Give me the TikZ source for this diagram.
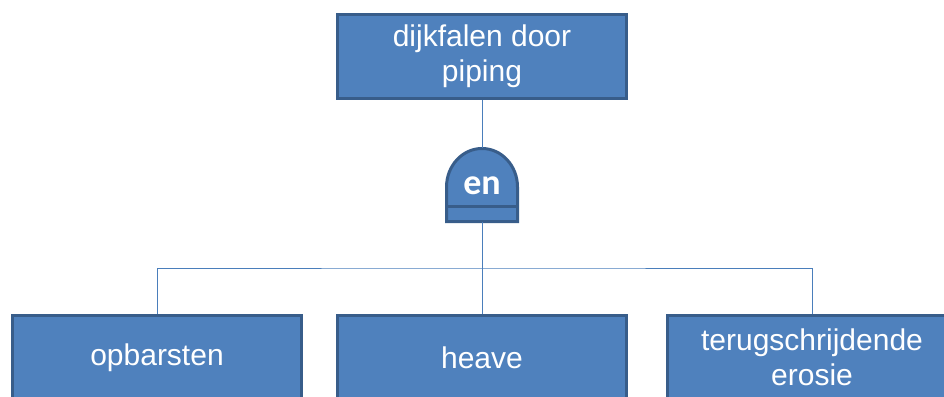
\documentclass[tikz,border=0pt]{standalone}
\usepackage{fontspec}
\setmainfont{Liberation Sans}
\newfontfamily\gatefont{Carlito}
\definecolor{fillblue}{HTML}{4F81BD}
\definecolor{edgeblue}{HTML}{385D8A}
\definecolor{linkblue}{HTML}{4A7EBB}
\begin{document}
\begin{tikzpicture}[x=1pt,y=-1pt,
  box/.style={draw=edgeblue, line width=3pt, fill=fillblue, text=white,
    minimum width=289pt, minimum height=84pt, inner sep=0pt, align=center,
    font=\fontsize{30}{35}\selectfont},
  link/.style={draw=linkblue, line width=1pt},
  gateshape/.style={draw=edgeblue, line width=3pt, fill=fillblue}]
\useasboundingbox (0,0) rectangle (944,396);
\clip (0,0) rectangle (944,396);

\node[box] (top) at (482,56.5) {dijkfalen door\\piping};
\node[box] (left) at (157,357.5) {opbarsten};
\node[box] (mid) at (482,357.5) {heave};
\node[box] (right) at (812,357.5) {terugschrijdende\\erosie};

% gate
\node[minimum width=71pt, minimum height=73pt, inner sep=0pt] (gate) at (482,185) {};
\draw[gateshape] (446.5,221.5) -- (446.5,187)
  .. controls (446.5,165.7) and (462.4,148.5) .. (482,148.5)
  .. controls (501.6,148.5) and (517.5,165.7) .. (517.5,187)
  -- (517.5,221.5) -- cycle;
\draw[draw=edgeblue, line width=3pt] (446.5,206) -- (517.5,206);
\node[text=white, font=\gatefont\bfseries\fontsize{36}{40}\selectfont, inner sep=0pt] (gatelabel) at (482,186) {en};

% connectors
\coordinate (junction) at (482,268);
\draw[link] (top.south) -- (gate.north);
\draw[link] (gate.south) -- (junction);
\draw[link] (left.north) |- (junction) -| (right.north);
\draw[link] (junction) -- (mid.north);
\end{tikzpicture}
\end{document}
